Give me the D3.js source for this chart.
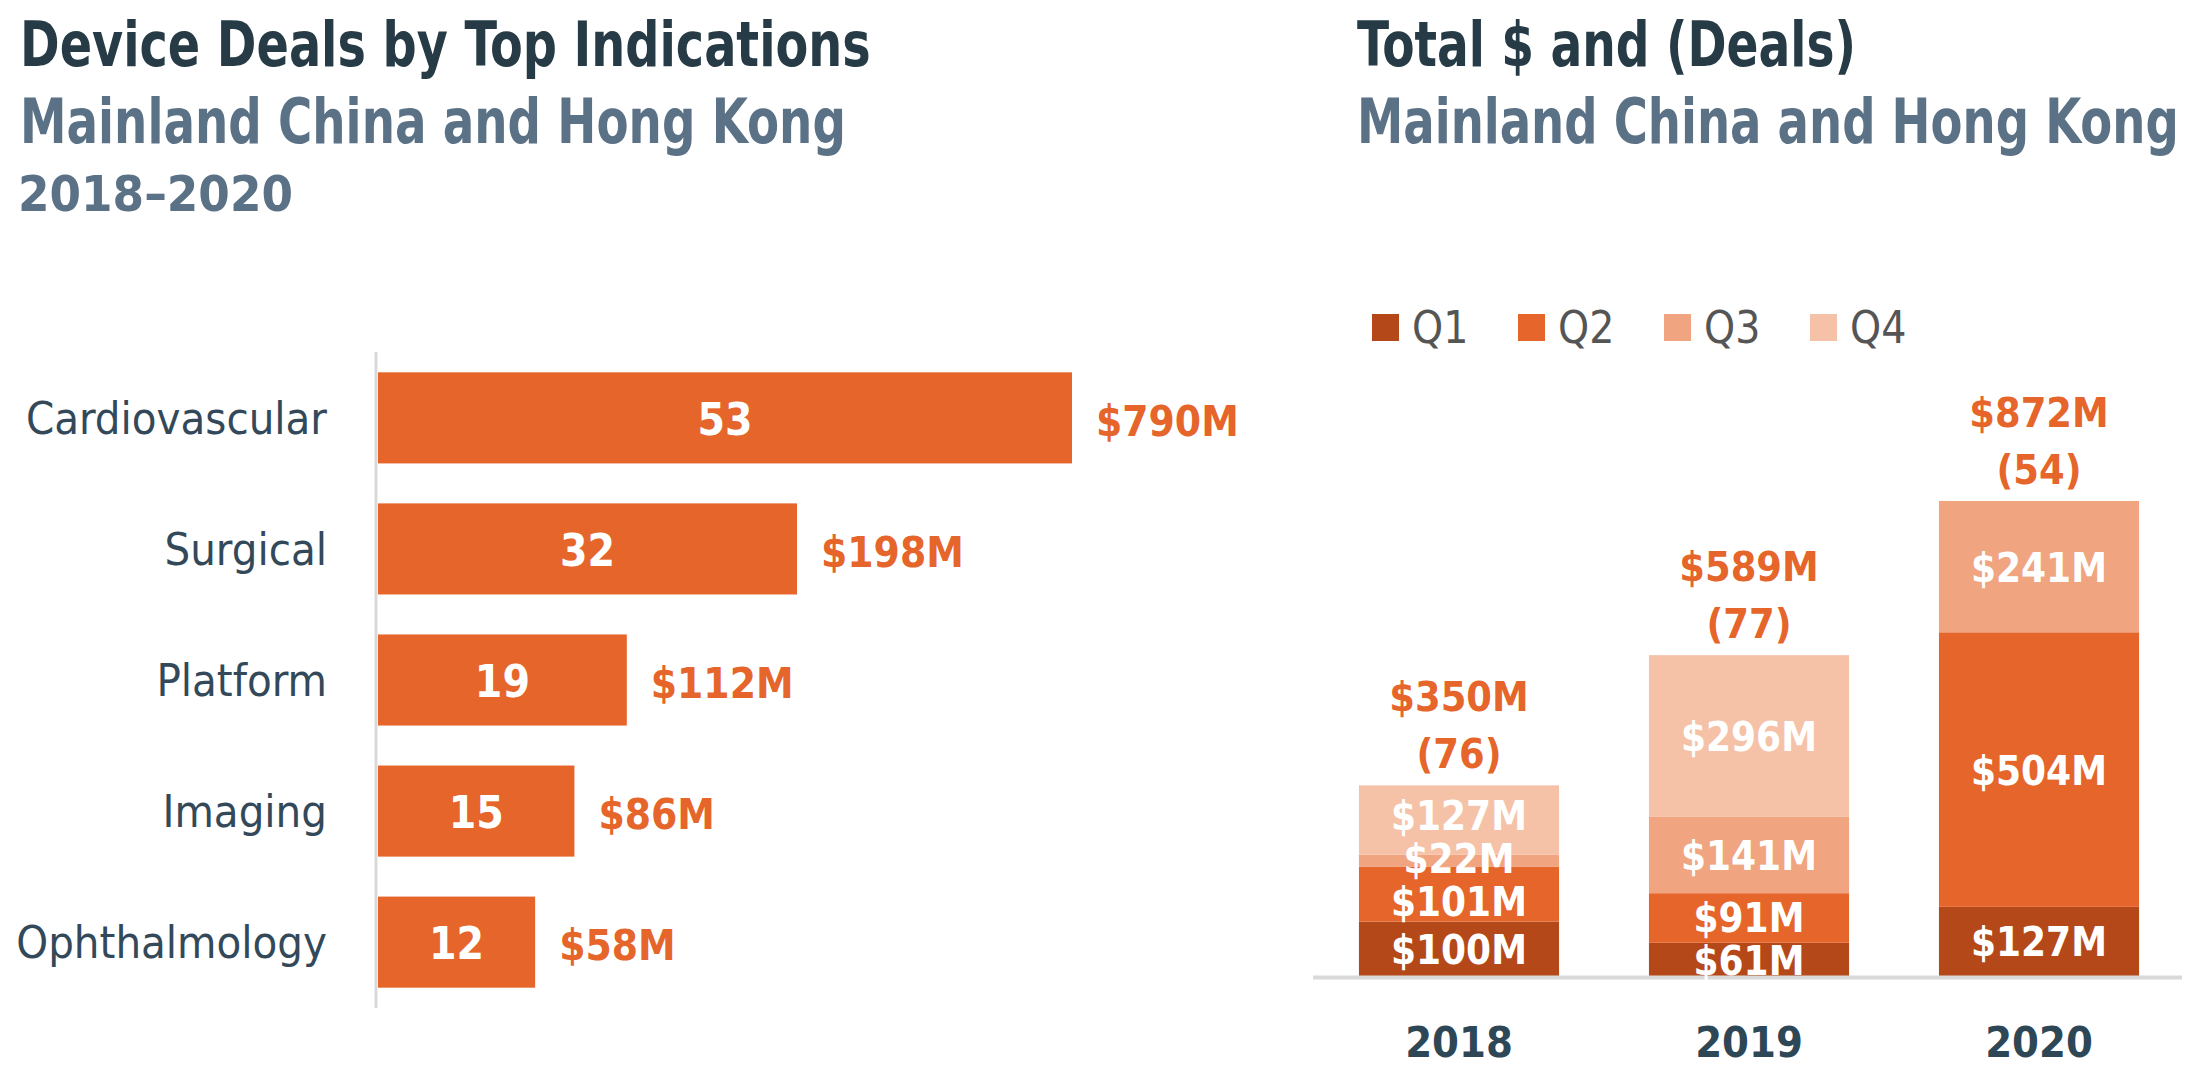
<!DOCTYPE html>
<html>
<head>
<meta charset="utf-8">
<script src="https://cdn.jsdelivr.net/npm/d3@7"></script>
<style>
  body { margin: 0; background: #fff; }
  svg text { font-family: "DejaVu Sans Condensed", "DejaVu Sans", sans-serif; font-stretch: condensed; }
</style>
</head>
<body>
<div id="chart"></div>
<script>
// left panel: deals by indication
const categories = ["Cardiovascular", "Surgical", "Platform", "Imaging", "Ophthalmology"];
const dealCounts = [53, 32, 19, 15, 12];
const dealValues = [790, 198, 112, 86, 58];

// right panel: $M by quarter
const years = ["2018", "2019", "2020"];
const quarters = ["Q1", "Q2", "Q3", "Q4"];
const q1Values = [100, 61, 127];
const q2Values = [101, 91, 504];
const q3Values = [22, 141, 241];
const q4Values = [127, 296, 0];
const yearTotals = [350, 589, 872];
const yearDeals = [76, 77, 54];

const orange = "#E5652A";
const quarterColors = ["#B54818", "#E5652A", "#F0A47F", "#F5C2A8"];
const titleColor = "#263B45";
const subColor = "#5A7186";

const width = 2194, height = 1074;

const svg = d3.select("#chart")
  .append("svg")
    .attr("width", width)
    .attr("height", height);

// heading squeezed horizontally to the width the reference font takes
function heading(x, y, size, fill, str, w) {
  const t = svg.append("text")
    .attr("font-size", size)
    .attr("font-weight", "bold")
    .attr("fill", fill)
    .text(str);
  const natural = t.node().getComputedTextLength();
  t.attr("transform", `translate(${x},${y}) scale(${w / natural},1)`);
  return t;
}

// ---- titles
heading(20, 66, 62, titleColor, "Device Deals by Top Indications", 851);
heading(20, 143, 62, subColor, "Mainland China and Hong Kong", 826);
heading(18, 211, 50, subColor, "2018–2020", 275);
heading(1357, 66, 62, titleColor, "Total $ and (Deals)", 499);
heading(1357, 143, 62, subColor, "Mainland China and Hong Kong", 822);

// ---- left: horizontal bars
const indData = categories.map((c, i) => ({ name: c, deals: dealCounts[i], value: dealValues[i] }));

const yBand = d3.scaleBand()
  .domain(categories)
  .range([352, 1008])
  .paddingInner(0.305)
  .paddingOuter(0.155);

const xDeals = d3.scaleLinear()
  .domain([0, 53])
  .range([378, 1072]);

const left = svg.append("g");

left.selectAll("rect.ind")
  .data(indData)
  .join("rect")
    .attr("class", "ind")
    .attr("x", xDeals(0))
    .attr("y", d => yBand(d.name))
    .attr("width", d => xDeals(d.deals) - xDeals(0))
    .attr("height", yBand.bandwidth())
    .attr("fill", orange);

left.append("line")
  .attr("x1", 376).attr("x2", 376)
  .attr("y1", 352).attr("y2", 1008)
  .attr("stroke", "#d9d9d9")
  .attr("stroke-width", 3);

left.selectAll("text.cat")
  .data(indData)
  .join("text")
    .attr("class", "cat")
    .attr("x", 327)
    .attr("y", d => yBand(d.name) + yBand.bandwidth() / 2 + 16)
    .attr("text-anchor", "end")
    .attr("font-size", 45)
    .attr("fill", "#33495A")
    .text(d => d.name);

left.selectAll("text.cnt")
  .data(indData)
  .join("text")
    .attr("class", "cnt")
    .attr("x", d => (xDeals(0) + xDeals(d.deals)) / 2)
    .attr("y", d => yBand(d.name) + yBand.bandwidth() / 2 + 17)
    .attr("text-anchor", "middle")
    .attr("font-size", 44)
    .attr("font-weight", "bold")
    .attr("fill", "#fff")
    .text(d => d.deals);

left.selectAll("text.val")
  .data(indData)
  .join("text")
    .attr("class", "val")
    .attr("x", d => xDeals(d.deals) + 24)
    .attr("y", d => yBand(d.name) + yBand.bandwidth() / 2 + 18)
    .attr("font-size", 42)
    .attr("font-weight", "bold")
    .attr("fill", orange)
    .text(d => `$${d.value}M`);

// ---- right: stacked columns
const yearData = years.map((y, i) => ({
  year: y, Q1: q1Values[i], Q2: q2Values[i], Q3: q3Values[i], Q4: q4Values[i],
  total: yearTotals[i], deals: yearDeals[i]
}));

const stack = d3.stack().keys(quarters)(yearData);

const xYear = d3.scaleBand()
  .domain(years)
  .range([1314, 2184])
  .paddingInner(0.31)
  .paddingOuter(0.155);

const yMoney = d3.scaleLinear()
  .domain([0, 872])
  .range([976, 501]);

const color = d3.scaleOrdinal().domain(quarters).range(quarterColors);

const right = svg.append("g");

const layers = right.selectAll("g.layer")
  .data(stack)
  .join("g")
    .attr("class", "layer")
    .attr("fill", d => color(d.key));

layers.selectAll("rect")
  .data(d => d)
  .join("rect")
    .attr("x", d => xYear(d.data.year))
    .attr("y", d => yMoney(d[1]))
    .attr("width", xYear.bandwidth())
    .attr("height", d => yMoney(d[0]) - yMoney(d[1]));

right.append("line")
  .attr("x1", 1313).attr("x2", 2182)
  .attr("y1", 977.5).attr("y2", 977.5)
  .attr("stroke", "#d9d9d9")
  .attr("stroke-width", 4);

// segment labels: centred, then pushed apart where segments are thin
const segLabels = [];
years.forEach((yr, i) => {
  const col = stack.map(layer => layer[i])
    .filter(s => s[1] - s[0] > 0)
    .map(s => ({ year: yr, value: s[1] - s[0], y: (yMoney(s[0]) + yMoney(s[1])) / 2 + 15 }));
  const minGap = 43;
  for (let iter = 0; iter < 50; iter++) {
    for (let k = 1; k < col.length; k++) {
      const gap = col[k - 1].y - col[k].y;
      if (gap < minGap) {
        const d = (minGap - gap) / 2;
        col[k - 1].y += d;
        col[k].y -= d;
      }
    }
  }
  segLabels.push(...col);
});

right.selectAll("text.seg")
  .data(segLabels)
  .join("text")
    .attr("class", "seg")
    .attr("x", d => xYear(d.year) + xYear.bandwidth() / 2)
    .attr("y", d => d.y)
    .attr("text-anchor", "middle")
    .attr("font-size", 40)
    .attr("font-weight", "bold")
    .attr("fill", "#fff")
    .text(d => `$${d.value}M`);

right.selectAll("text.total")
  .data(yearData)
  .join("text")
    .attr("class", "total")
    .attr("x", d => xYear(d.year) + xYear.bandwidth() / 2)
    .attr("y", d => yMoney(d.total) - 74)
    .attr("text-anchor", "middle")
    .attr("font-size", 41)
    .attr("font-weight", "bold")
    .attr("fill", orange)
    .text(d => `$${d.total}M`);

right.selectAll("text.deals")
  .data(yearData)
  .join("text")
    .attr("class", "deals")
    .attr("x", d => xYear(d.year) + xYear.bandwidth() / 2)
    .attr("y", d => yMoney(d.total) - 17)
    .attr("text-anchor", "middle")
    .attr("font-size", 41)
    .attr("font-weight", "bold")
    .attr("fill", orange)
    .text(d => `(${d.deals})`);

right.selectAll("text.year")
  .data(years)
  .join("text")
    .attr("class", "year")
    .attr("x", d => xYear(d) + xYear.bandwidth() / 2)
    .attr("y", 1057)
    .attr("text-anchor", "middle")
    .attr("font-size", 43)
    .attr("font-weight", "bold")
    .attr("fill", "#2E4756")
    .text(d => d);

// legend
const legend = right.selectAll("g.legend")
  .data(quarters)
  .join("g")
    .attr("class", "legend")
    .attr("transform", (d, i) => `translate(${1372 + i * 146}, 314)`);

legend.append("rect")
  .attr("width", 27)
  .attr("height", 27)
  .attr("fill", d => color(d));

legend.append("text")
  .attr("x", 40)
  .attr("y", 29)
  .attr("font-size", 44)
  .attr("fill", "#555")
  .text(d => d);
</script>
</body>
</html>
